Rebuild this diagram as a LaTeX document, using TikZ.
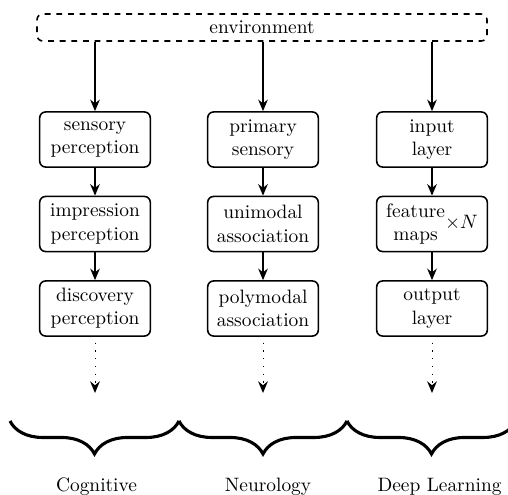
\documentclass[tikz,border=0pt]{standalone}
\usetikzlibrary{arrows.meta,decorations.pathreplacing}
\begin{document}
\begin{tikzpicture}[x=0.5155pt,y=-0.5155pt,
  stagebox/.style={draw,thick,rounded corners=3pt,minimum width=57pt,minimum height=28.4pt,align=center,inner sep=1pt},
  envbox/.style={draw,thick,dashed,rounded corners=3pt,minimum width=232pt,minimum height=13.9pt,inner sep=1pt},
  flow/.style={thick,-{Stealth[length=6pt,width=5pt,inset=2pt]}},
  dotflow/.style={thin,dash pattern=on 0.6pt off 3.4pt,-{Stealth[length=6pt,width=5pt,inset=2pt,line width=0.8pt]}},
  bracestyle/.style={line width=1.6pt,decorate,decoration={brace,mirror,amplitude=17pt}},
  label/.style={inner sep=0pt,anchor=base}]
\useasboundingbox (0,0) rectangle (508,495);
\node[envbox] (env) at (262,27.5) {environment};
% column 1
\node[stagebox] (c1) at (95,139.5) {sensory\\perception};
\node[stagebox] (c2) at (95,224) {impression\\perception};
\node[stagebox] (c3) at (95,308.5) {discovery\\perception};
% column 2
\node[stagebox] (n1) at (263,139.5) {primary\\sensory};
\node[stagebox] (n2) at (263,224) {unimodal\\association};
\node[stagebox] (n3) at (263,308.5) {polymodal\\association};
% column 3
\node[stagebox] (d1) at (432,139.5) {input\\layer};
\node[stagebox] (d2) at (432,224) {\begin{tabular}{@{}c@{}}feature\\maps\end{tabular}$\times N$};
\node[stagebox] (d3) at (432,308.5) {output\\layer};
% free ends
\coordinate (ce) at (95,393);
\coordinate (ne) at (263,393);
\coordinate (de) at (432,393);
\draw[flow] (env.south -| c1.north) -- (c1.north);
\draw[flow] (env.south -| n1.north) -- (n1.north);
\draw[flow] (env.south -| d1.north) -- (d1.north);
\draw[flow] (c1) -- (c2);
\draw[flow] (c2) -- (c3);
\draw[flow] (n1) -- (n2);
\draw[flow] (n2) -- (n3);
\draw[flow] (d1) -- (d2);
\draw[flow] (d2) -- (d3);
\draw[dotflow] ([yshift=-3pt]c3.south) -- (ce);
\draw[dotflow] ([yshift=-3pt]n3.south) -- (ne);
\draw[dotflow] ([yshift=-3pt]d3.south) -- (de);
% braces
\coordinate (b0) at (10,421);
\coordinate (b1) at (179,421);
\coordinate (b2) at (347,421);
\coordinate (b3) at (516,421);
\draw[bracestyle] (b0) -- (b1);
\draw[bracestyle] (b1) -- (b2);
\draw[bracestyle] (b2) -- (b3);
\node[label] (lc) at (96.5,492) {Cognitive};
\node[label] (ln) at (268,492) {Neurology};
\node[label] (ld) at (439.5,492) {Deep Learning};
\end{tikzpicture}
\end{document}
